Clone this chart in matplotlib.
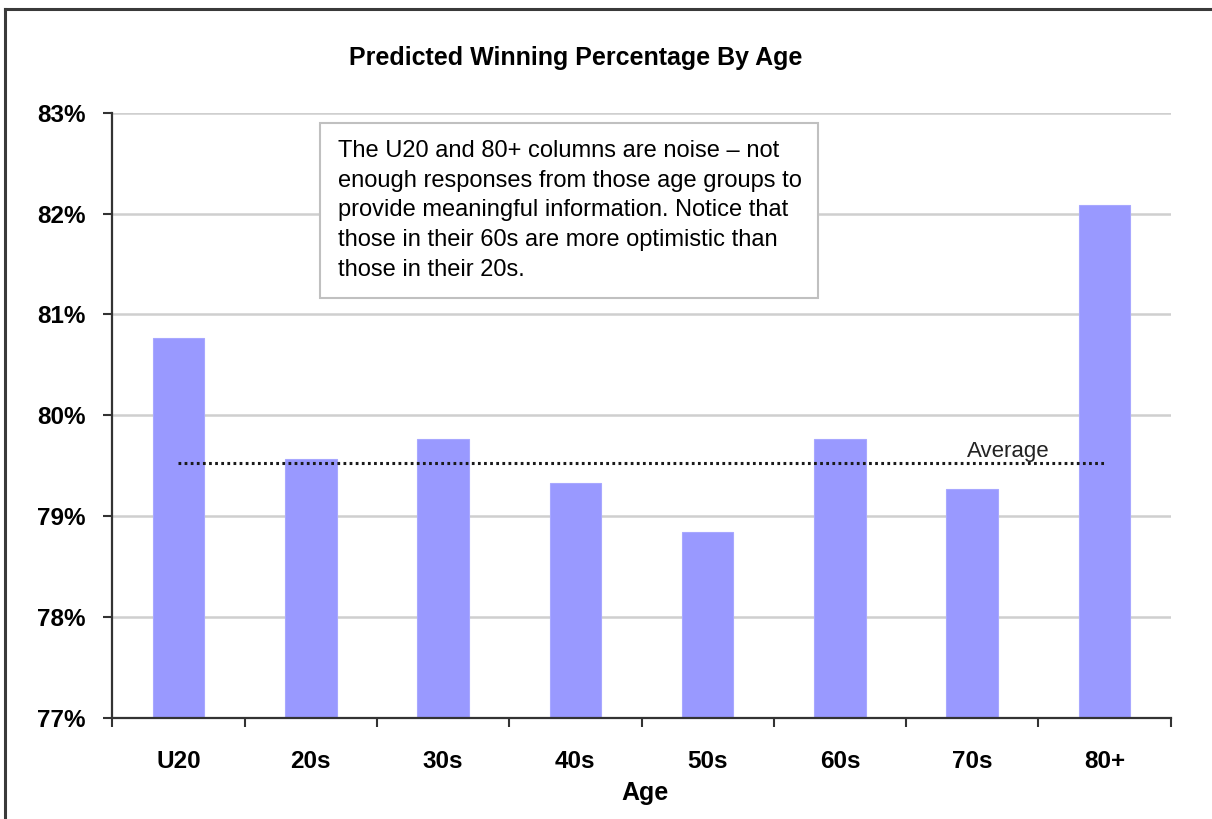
import numpy as np
import matplotlib
matplotlib.use("Agg")
import matplotlib.pyplot as plt
from matplotlib.patches import Rectangle
from matplotlib.lines import Line2D
from matplotlib.ticker import FuncFormatter

plt.rcParams['font.family'] = ['Liberation Sans', 'DejaVu Sans']

# data
ages = ["U20", "20s", "30s", "40s", "50s", "60s", "70s", "80+"]
win_pct = [0.8077, 0.7957, 0.7977, 0.7933, 0.7884, 0.7977, 0.7927, 0.8209]
average = 0.7953
y_ticks = [0.77, 0.78, 0.79, 0.80, 0.81, 0.82, 0.83]

title = "Predicted Winning Percentage By Age"
note = ("The U20 and 80+ columns are noise \u2013 not\n"
        "enough responses from those age groups to\n"
        "provide meaningful information. Notice that\n"
        "those in their 60s are more optimistic than\n"
        "those in their 20s.")

W, H = 1212, 819
fig = plt.figure(figsize=(W / 100, H / 100), dpi=100)
ax = fig.add_axes([112.3 / W, 1 - 718 / H, (1170.7 - 112.3) / W, (718 - 112.7) / H])

x = np.arange(len(ages))
ax.bar(x, win_pct, width=0.39, color='#9999ff', edgecolor='#a8a8ff', linewidth=0.8)
ax.plot([x[0], x[-1]], [average, average], ls=(0, (0.9, 1.1)), lw=2.2, color='#1a1a1a', zorder=3)
ax.text(5.96, average + 0.0006, "Average", fontsize=16, color='#222222', va='baseline')

ax.set_xlim(-0.5, len(ages) - 0.5)
ax.set_ylim(y_ticks[0], y_ticks[-1])
ax.set_yticks(y_ticks)
ax.yaxis.set_major_formatter(FuncFormatter(lambda v, p: f"{v * 100:.0f}%"))
ax.set_xticks(x)
ax.set_xticklabels(ages)
ax.set_xticks(np.arange(-0.5, len(ages), 1), minor=True)

ax.tick_params(axis='x', which='major', length=0, pad=23, labelsize=17.5)
ax.tick_params(axis='x', which='minor', length=6.5, width=1.5, color='#333333')
ax.tick_params(axis='y', length=6.5, width=1.5, color='#333333', pad=12.7, labelsize=17.5)
for lab in ax.get_xticklabels() + ax.get_yticklabels():
    lab.set_fontweight('bold')

ax.yaxis.grid(True, color='#cfcfcf', lw=1.8)
ax.set_axisbelow(True)
for s in ['top', 'right']:
    ax.spines[s].set_visible(False)
for s in ['left', 'bottom']:
    ax.spines[s].set_color('#333333')
    ax.spines[s].set_linewidth(1.6)

fig.text(576 / W, 1 - 65 / H, title, ha='center', va='baseline', fontsize=18, fontweight='bold')
fig.text(645 / W, 1 - 800 / H, "Age", ha='center', va='baseline', fontsize=18, fontweight='bold')

# note box
fig.add_artist(Rectangle((320 / W, 1 - 298 / H), 498 / W, 175 / H, transform=fig.transFigure,
                         facecolor='white', edgecolor='#c0c0c0', lw=1.5, zorder=5))
fig.text(338 / W, 1 - 140 / H, note, ha='left', va='top', fontsize=17,
         linespacing=1.45, color='black', zorder=6)

# chart frame
fig.add_artist(Line2D([5 / W, 1], [1 - 9 / H, 1 - 9 / H], transform=fig.transFigure,
                      color='#3a3a3a', lw=2.2))
fig.add_artist(Line2D([5 / W, 5 / W], [0, 1 - 9 / H], transform=fig.transFigure,
                      color='#3a3a3a', lw=2.2))

fig.savefig("out.png", dpi=100)
